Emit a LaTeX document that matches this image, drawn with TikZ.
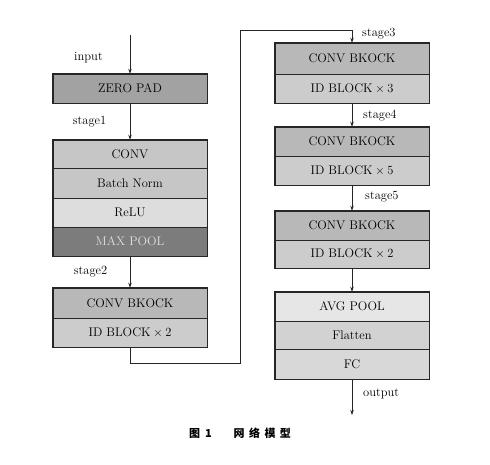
\documentclass[tikz,border=0pt]{standalone}
\usepackage{fontspec}
\newfontfamily\cjk{Noto Sans CJK SC}
\usetikzlibrary{arrows.meta}
\definecolor{gZero}{HTML}{A2A2A2}
\definecolor{gConv}{HTML}{C6C6C6}
\definecolor{gRelu}{HTML}{DDDDDD}
\definecolor{gMax}{HTML}{7C7C7C}
\definecolor{gCB}{HTML}{B8B8B8}
\definecolor{gID}{HTML}{CCCCCC}
\definecolor{gAvg}{HTML}{E6E6E6}
\definecolor{gFlat}{HTML}{D2D2D2}
\definecolor{gFC}{HTML}{D8D8D8}
\tikzset{
  row/.style={draw=black!85, line width=0.6pt, minimum width=154pt, inner sep=0pt,
    font=\fontsize{12.5}{14}\selectfont, text=black},
  frame/.style={draw=black!85, line width=1.1pt},
  lbl/.style={font=\fontsize{12.5}{14}\selectfont, text=black, inner sep=0pt},
  arr/.style={draw=black!85, line width=0.7pt, -{Stealth[length=5pt,width=3.5pt]}},
  wire/.style={draw=black!85, line width=0.7pt}
}
\begin{document}
\begin{tikzpicture}[x=1pt,y=-1pt]
\useasboundingbox (0,0) rectangle (490,465);
% left column
\node[row, fill=gZero, minimum height=29pt] (zp) at (130,88.5) {ZERO PAD};
\node[row, fill=gConv, minimum height=28pt] (conv) at (130,154) {CONV};
\node[row, fill=gConv, minimum height=30pt] (bn) at (130,183) {Batch Norm};
\node[row, fill=gRelu, minimum height=29pt] (relu) at (130,212.5) {ReLU};
\node[row, fill=gMax, minimum height=29pt, text=black!12] (mp) at (130,241.5) {MAX POOL};
\node[row, fill=gCB, minimum height=30pt] (s2a) at (130,303) {CONV BKOCK};
\node[row, fill=gID, minimum height=29pt] (s2b) at (130,332.5) {ID BLOCK${}\times{}$2};
% right column
\node[row, fill=gCB, minimum height=31pt] (s3a) at (352,58.5) {CONV BKOCK};
\node[row, fill=gID, minimum height=29pt] (s3b) at (352,88.5) {ID BLOCK${}\times{}$3};
\node[row, fill=gCB, minimum height=29pt] (s4a) at (352,141.5) {CONV BKOCK};
\node[row, fill=gID, minimum height=29pt] (s4b) at (352,170.5) {ID BLOCK${}\times{}$5};
\node[row, fill=gCB, minimum height=29pt] (s5a) at (352,225.5) {CONV BKOCK};
\node[row, fill=gID, minimum height=28pt] (s5b) at (352,254) {ID BLOCK${}\times{}$2};
\node[row, fill=gAvg, minimum height=29pt] (avg) at (352,306.5) {AVG POOL};
\node[row, fill=gFlat, minimum height=28pt] (flat) at (352,335) {Flatten};
\node[row, fill=gFC, minimum height=30pt] (fc) at (352,364) {FC};
% outer frames
\draw[frame] (zp.north west) rectangle (zp.south east);
\draw[frame] (conv.north west) rectangle (mp.south east);
\draw[frame] (s2a.north west) rectangle (s2b.south east);
\draw[frame] (s3a.north west) rectangle (s3b.south east);
\draw[frame] (s4a.north west) rectangle (s4b.south east);
\draw[frame] (s5a.north west) rectangle (s5b.south east);
\draw[frame] (avg.north west) rectangle (fc.south east);
% connectors
\coordinate (in) at (130,35);
\coordinate (out) at (352,415);
\coordinate (c1) at (130,363);
\coordinate (c2) at (240,363);
\coordinate (c3) at (240,30);
\coordinate (c4) at (352,30);
\draw[arr] (in) -- (zp.north);
\draw[arr] (zp.south) -- (conv.north);
\draw[arr] (mp.south) -- (s2a.north);
\draw[wire] (s2b.south) -- (c1) -- (c2) -- (c3) -- (c4);
\draw[arr] (c4) -- (s3a.north);
\draw[arr] (s3b.south) -- (s4a.north);
\draw[arr] (s4b.south) -- (s5a.north);
\draw[arr] (s5b.south) -- (avg.north);
\draw[arr] (fc.south) -- (out);
% labels
\node[lbl] (linput) at (88.5,58) {input};
\node[lbl] (ls1) at (89.5,122) {stage1};
\node[lbl] (ls2) at (90.5,272) {stage2};
\node[lbl, anchor=west] (ls3) at (362,34) {stage3};
\node[lbl, anchor=west] (ls4) at (363,116) {stage4};
\node[lbl, anchor=west] (ls5) at (365,197) {stage5};
\node[lbl, anchor=west] (lout) at (363,394) {output};
% caption
\node[inner sep=0pt, font=\cjk\bfseries\fontsize{11}{13}\selectfont] (cap) at (240,433)
  {图\hspace{0.45em}1\hspace{2em}网\hspace{0.4em}络\hspace{0.4em}模\hspace{0.4em}型};
\end{tikzpicture}
\end{document}
